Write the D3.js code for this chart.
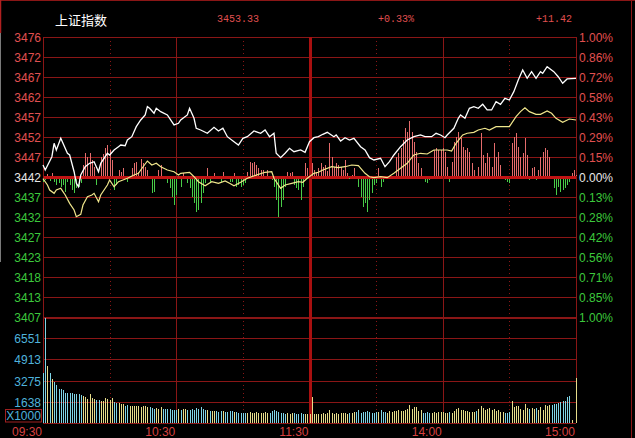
<!DOCTYPE html>
<html><head><meta charset="utf-8">
<script src="https://cdn.jsdelivr.net/npm/d3@7"></script>
<style>html,body{margin:0;padding:0;background:#000;overflow:hidden}</style>
</head><body><svg id="c" width="635" height="438"></svg>
<script>
// ---------- data ----------
const title = "上证指数";
const headerValues = ["3453.33", "+0.33%", "+11.42"];
const prevClose = 3441.91;
const priceTicks = ["3476","3472","3467","3462","3457","3452","3447","3442","3437","3432","3427","3423","3418","3413","3407"];
const pctTicks = ["1.00%","0.86%","0.72%","0.58%","0.43%","0.29%","0.15%","0.00%","0.13%","0.28%","0.42%","0.56%","0.71%","0.85%","1.00%"];
const volTicks = ["6551","4913","3275","1638"];
const volUnit = "X1000";
const timeLabels = ["09:30","10:30","11:30","14:00","15:00"];
const timeMinutes = [0, 60, 120, 180, 240];
const dottedMinutes = [30, 90, 150, 210];
const solidMinutes = [60, 180];
const breakMinute = 120;

// weighted index (white line): [minute, price]
const priceMinutes = [0,1,4,5,6,8,11,12,14,15,16,17,19,21,23,25,26,29,30,32,34,35,37,38,40,42,44,46,47,48,50,51,53,56,58,59,61,62,65,66,68,69,71,74,77,79,81,83,86,88,90,92,95,98,100,102,104,105,107,109,111,113,116,118,120,122,124,126,128,131,132,134,136,138,140,143,145,147,149,152,154,156,158,161,164,167,170,172,175,177,179,181,182,185,187,188,190,192,194,196,198,200,202,204,206,208,210,212,214,216,218,220,222,224,225,227,230,232,234,236,240];
const priceValues = [3444.86,3443.63,3446.90,3450.20,3448.55,3451.43,3447.74,3447.32,3443.21,3440.36,3439.52,3442.40,3444.44,3445.28,3445.67,3443.21,3445.28,3447.74,3447.32,3448.55,3449.36,3449.78,3449.60,3451.01,3451.82,3454.28,3455.93,3457.16,3459.20,3458.80,3457.57,3458.80,3457.97,3457.16,3455.51,3454.70,3455.11,3455.93,3457.16,3458.80,3456.34,3453.89,3453.47,3452.66,3454.13,3453.22,3453.89,3451.82,3450.59,3449.78,3451.43,3451.82,3453.22,3452.66,3453.47,3451.82,3452.66,3447.74,3446.66,3447.74,3448.97,3448.13,3448.55,3447.98,3450.59,3451.57,3451.82,3452.41,3452.90,3451.82,3452.24,3450.76,3451.57,3451.01,3451.43,3449.36,3448.55,3446.66,3446.09,3446.51,3444.44,3445.67,3447.32,3449.36,3451.01,3451.82,3452.24,3451.82,3451.82,3452.66,3452.24,3451.57,3452.24,3453.89,3456.34,3457.16,3456.34,3458.80,3459.20,3458.80,3459.79,3458.39,3458.39,3460.43,3459.79,3461.26,3460.84,3462.89,3465.76,3468.22,3466.18,3467.80,3466.18,3467.80,3467.41,3469.03,3467.80,3466.57,3464.95,3466.01,3466.18];

// average line (yellow): [minute, price]
const avgMinutes = [0,2,3,5,6,8,10,12,14,15,17,18,20,22,23,25,26,29,30,32,34,36,38,41,43,44,47,49,51,53,56,59,61,62,66,68,70,73,76,79,82,84,86,89,92,97,100,103,104,107,109,112,115,117,119,122,124,126,130,133,136,139,142,145,147,149,152,155,158,161,164,167,170,173,176,182,184,186,189,191,194,196,199,201,204,210,213,215,217,219,222,224,227,229,231,234,237,240];
const avgValues = [3441.50,3439.94,3438.71,3437.90,3438.71,3439.13,3437.48,3435.44,3433.80,3432.15,3432.74,3435.02,3437.07,3437.48,3437.90,3435.84,3437.48,3439.94,3441.17,3439.52,3440.75,3441.17,3441.59,3442.40,3442.82,3443.63,3445.84,3444.86,3445.28,3444.44,3443.63,3443.21,3442.40,3442.82,3443.07,3441.98,3440.75,3439.77,3440.75,3440.36,3440.93,3440.36,3439.77,3440.61,3441.59,3442.57,3443.07,3443.21,3441.59,3439.13,3439.94,3440.36,3440.75,3440.61,3441.59,3442.82,3443.07,3443.63,3444.44,3444.20,3444.44,3444.86,3444.69,3442.82,3441.98,3441.74,3441.98,3441.74,3442.82,3444.05,3445.28,3447.32,3447.74,3447.57,3448.55,3448.55,3448.30,3450.20,3452.24,3452.66,3452.90,3453.47,3453.89,3453.47,3454.28,3454.28,3456.74,3457.97,3458.95,3457.97,3457.33,3457.33,3458.14,3457.57,3456.34,3455.36,3456.17,3455.93];

// buy/sell strength bars, one per minute (up = red, down = green)
const strength = [
 -5,-3,3,-4,4,-5,-8,-6,-10,-8,
 -15,-5,-8,-13,-16,-11,-10,-6,12,24,
 20,24,17,10,-8,0,20,23,29,32,
 27,17,-13,-8,7,5,9,0,-5,0,
 9,14,15,5,18,14,10,7,0,-16,
 -15,0,7,12,0,0,-6,-11,-20,-28,
 -18,0,-10,4,0,-6,-11,-20,-26,-35,
 -33,-26,-16,-6,9,-6,0,4,0,0,
 -5,5,0,0,-5,-5,4,-10,-8,-10,
 -8,-6,5,15,14,15,12,9,7,7,
 0,7,0,-3,-10,-23,-40,-30,-23,-10,
 5,4,5,-8,-11,-13,-23,-10,14,9,
 0,14,7,5,9,14,10,12,6,34,
 20,10,14,12,10,7,17,4,-1,2,
 9,0,-10,-20,-30,-26,-35,-23,-16,-8,
 -6,9,-10,-5,0,0,0,0,0,20,
 24,29,37,49,45,56,45,35,25,14,
 9,0,-5,-6,-3,0,27,29,27,27,
 29,25,10,-5,15,35,40,45,39,30,
 27,29,25,14,7,0,10,44,22,14,
 24,20,10,34,20,25,12,0,-3,-5,
 -6,34,40,44,30,20,24,39,22,-3,
 9,10,-3,7,20,25,29,27,20,0,
 -11,-18,-10,-15,-13,-11,-8,-5,4,7,
 2];

// volume per minute (x1000)
const volume = [
 3900,8100,4433,3858,3386,3174,2913,2654,2599,2544,
 2339,2284,2339,2284,2205,2205,2205,2126,2071,2024,
 1866,2205,1945,1866,1811,1811,1733,1677,1945,1866,
 1780,1945,1599,1551,1551,1496,1496,1284,1417,1340,
 1340,1340,1284,1284,1236,1340,1284,1236,1236,1180,
 1079,1130,1079,1236,1079,1079,1079,1079,1024,1024,
 1024,1079,1000,1050,1079,1000,1024,1079,1000,1130,
 1079,1236,1079,998,1024,960,900,940,900,860,
 960,900,860,820,900,940,860,820,800,756,
 800,760,800,820,800,780,820,800,780,800,
 820,800,780,900,998,900,860,800,760,720,
 756,720,780,756,700,720,780,700,720,700,
 680,2024,700,680,720,700,760,700,740,998,
 760,720,780,700,740,800,760,700,800,760,
 820,860,998,800,860,820,900,860,800,760,
 820,860,998,820,860,800,900,820,900,940,
 998,900,960,998,1100,1391,1100,1260,1200,900,
 980,800,760,820,760,800,860,800,880,820,
 860,760,800,860,800,940,1050,1129,998,998,
 940,900,860,820,860,940,1100,1338,1129,1000,
 1100,1129,998,1050,940,998,860,820,780,800,
 820,1733,1260,1300,1300,1050,1000,1470,1129,1050,
 1129,1100,1129,998,1260,998,1391,1300,1391,1391,
 1470,1470,1560,1654,1700,1700,2047,2124,250,0,
 3513];

// ---------- drawing ----------
const svg = d3.select("#c");
const C = {
  grid: "#8a1616", gridBright: "#c01414", labelRed: "#e05050", labelGreen: "#3cc83c",
  labelWhite: "#e8e8e8", cyan: "#4fb3dc", up: "#e46c6c", down: "#48cc48",
  volUp: "#e6dc8a", volDown: "#7fd4e6", price: "#ffffff", avg: "#f0e68c"
};
const FONT = "'Liberation Sans', Arial, sans-serif";

const x = d3.scaleLinear().domain([0, 240]).range([43, 576]);
const maxPct = 0.01;
const y = d3.scaleLinear().domain([prevClose * (1 - maxPct), prevClose * (1 + maxPct)]).range([317, 37]);
const ys = d3.scaleLinear().domain([-140, 140]).range([317, 37]);
const yv = d3.scaleLinear().domain([0, 1638 * 5]).range([423, 317]);
const px = v => Math.round(v) + 0.5;

svg.append("rect").attr("width", 635).attr("height", 438).attr("fill", "#000");

// frame edges of the window
svg.append("line").attr("x1", 0).attr("x2", 635).attr("y1", 0.5).attr("y2", 0.5).attr("stroke", C.grid);
svg.append("line").attr("x1", 0.5).attr("x2", 0.5).attr("y1", 0).attr("y2", 33).attr("stroke", "#b02020").attr("stroke-width", 1.5);
svg.append("line").attr("x1", 0.5).attr("x2", 0.5).attr("y1", 33).attr("y2", 262).attr("stroke", "#7a7a7a");
svg.append("line").attr("x1", 631.5).attr("x2", 631.5).attr("y1", 0).attr("y2", 438).attr("stroke", C.grid);

// header
svg.append("text").attr("x", 55).attr("y", 19).attr("dominant-baseline", "central")
  .attr("font-family", "'Noto Sans CJK SC', sans-serif").attr("font-size", 13).attr("fill", "#ffffff").text(title);
const headerX = [217, 378, 536];
svg.selectAll("text.hdr").data(headerValues).enter().append("text").attr("class", "hdr")
  .attr("x", (d, i) => headerX[i]).attr("y", 19).attr("dominant-baseline", "central")
  .attr("font-family", "'Liberation Mono', 'DejaVu Sans Mono', monospace").attr("font-size", 10)
  .attr("fill", C.labelRed).text(d => d);

const g = svg.append("g").attr("shape-rendering", "crispEdges");
// price grid rows
const rowPrices = priceTicks.map((t, i) => prevClose * (1 + maxPct * (7 - i) / 7));
g.selectAll("line.row").data(rowPrices).enter().append("line").attr("class", "row")
  .attr("x1", x(0)).attr("x2", x(240)).attr("y1", d => px(y(d))).attr("y2", d => px(y(d)))
  .attr("stroke", (d, i) => i === 7 ? C.gridBright : C.grid)
  .attr("stroke-width", (d, i) => (i === 7 ? 3 : (i === 14 ? 2 : 1)));

// volume grid rows
const volRows = volTicks.map(Number).concat([0]);
g.selectAll("line.vrow").data(volRows).enter().append("line").attr("class", "vrow")
  .attr("x1", x(0)).attr("x2", x(240)).attr("y1", d => px(yv(d))).attr("y2", d => px(yv(d)))
  .attr("stroke", C.grid);

// vertical lines
g.selectAll("line.dot").data(dottedMinutes).enter().append("line").attr("class", "dot")
  .attr("x1", d => px(x(d))).attr("x2", d => px(x(d))).attr("y1", 37).attr("y2", 423)
  .attr("stroke", C.grid).attr("stroke-dasharray", "1,3");
g.selectAll("line.sol").data(solidMinutes.concat([0, 240])).enter().append("line").attr("class", "sol")
  .attr("x1", d => px(x(d))).attr("x2", d => px(x(d))).attr("y1", 37).attr("y2", 423)
  .attr("stroke", C.grid);
g.append("rect").attr("x", Math.round(x(breakMinute)) - 1).attr("y", 37).attr("width", 2.5).attr("height", 386)
  .attr("fill", "#a81010");

// strength bars
const stData = strength.map((v, i) => ({ i, v })).filter(d => d.v !== 0);
g.selectAll("line.st").data(stData).enter().append("line").attr("class", "st")
  .attr("x1", d => px(x(d.i))).attr("x2", d => px(x(d.i)))
  .attr("y1", d => d.v > 0 ? ys(0) - 1.5 : ys(0) + 1.5).attr("y2", d => ys(d.v))
  .attr("stroke", d => d.v > 0 ? C.up : C.down);

// volume bars
const priceAt = d3.scaleLinear().domain(priceMinutes).range(priceValues);
const volData = volume.map((v, i) => ({ i, v })).filter(d => d.v > 0);
g.selectAll("line.vol").data(volData).enter().append("line").attr("class", "vol")
  .attr("x1", d => px(x(d.i))).attr("x2", d => px(x(d.i)))
  .attr("y1", yv(0)).attr("y2", d => yv(d.v))
  .attr("stroke", d => {
    const s = strength[d.i];
    if (s > 0) return C.volUp;
    if (s < 0) return C.volDown;
    return (d.i === 0 || priceAt(d.i) >= priceAt(d.i - 1)) ? C.volUp : C.volDown;
  });

// lines
const line = d3.line().x(d => x(d[0])).y(d => y(d[1]));
svg.append("path").datum(avgMinutes.map((m, i) => [m, avgValues[i]]))
  .attr("d", line).attr("fill", "none").attr("stroke", C.avg).attr("stroke-width", 1.2);
svg.append("path").datum(priceMinutes.map((m, i) => [m, priceValues[i]]))
  .attr("d", line).attr("fill", "none").attr("stroke", C.price).attr("stroke-width", 1.3);

// left price labels
svg.selectAll("text.pl").data(priceTicks).enter().append("text").attr("class", "pl")
  .attr("x", 41).attr("y", (d, i) => y(rowPrices[i]) + 1).attr("text-anchor", "end").attr("dominant-baseline", "central")
  .attr("font-family", FONT).attr("font-size", 12)
  .attr("fill", (d, i) => i < 7 ? C.labelRed : (i === 7 ? C.labelWhite : C.labelGreen)).text(d => d);
// right pct labels
svg.selectAll("text.pr").data(pctTicks).enter().append("text").attr("class", "pr")
  .attr("x", 579).attr("y", (d, i) => y(rowPrices[i]) + 1).attr("dominant-baseline", "central")
  .attr("font-family", FONT).attr("font-size", 12)
  .attr("fill", (d, i) => i < 7 ? C.labelRed : (i === 7 ? C.labelWhite : C.labelGreen)).text(d => d);
// volume labels
svg.selectAll("text.vl").data(volTicks).enter().append("text").attr("class", "vl")
  .attr("x", 41).attr("y", d => yv(+d) + 1).attr("text-anchor", "end").attr("dominant-baseline", "central")
  .attr("font-family", FONT).attr("font-size", 12).attr("fill", C.cyan).text(d => d);
svg.append("rect").attr("x", 5.5).attr("y", 409.5).attr("width", 36).attr("height", 12.5)
  .attr("fill", "none").attr("stroke", "#a02020");
svg.append("text").attr("x", 23.5).attr("y", 416).attr("text-anchor", "middle").attr("dominant-baseline", "central")
  .attr("font-family", FONT).attr("font-size", 12).attr("fill", C.cyan).text(volUnit);
// time labels
svg.selectAll("text.tl").data(timeLabels).enter().append("text").attr("class", "tl")
  .attr("x", (d, i) => x(timeMinutes[i]) - 1).attr("y", 432).attr("text-anchor", "end").attr("dominant-baseline", "central")
  .attr("font-family", FONT).attr("font-size", 12).attr("fill", "#d84040").text(d => d);
</script></body></html>
